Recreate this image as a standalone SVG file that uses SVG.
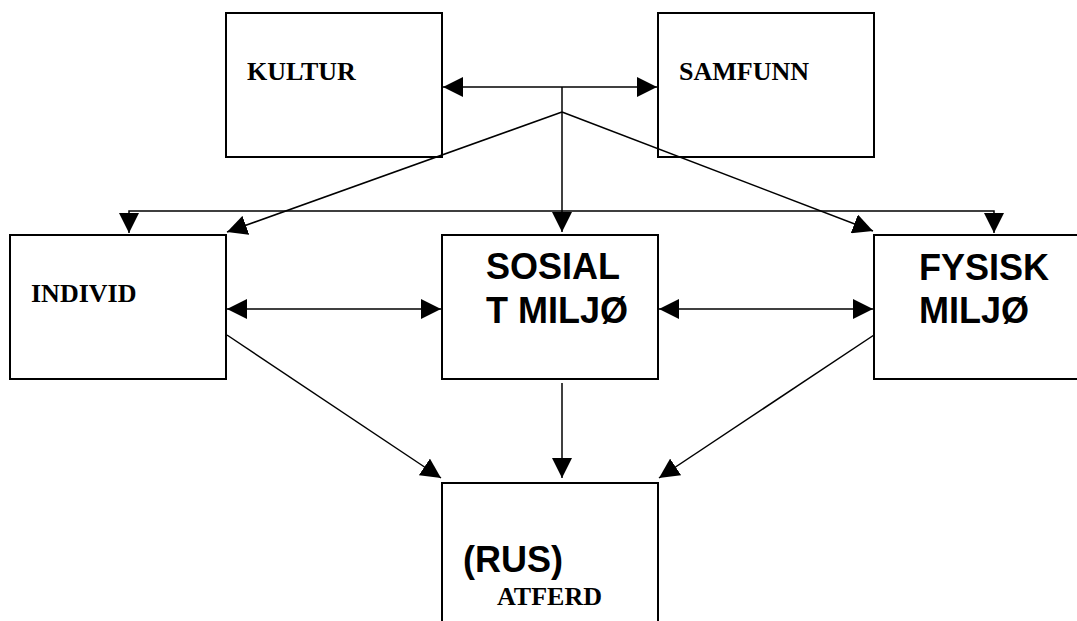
<svg xmlns="http://www.w3.org/2000/svg" width="1077" height="621" viewBox="0 0 1077 621">
<style>
.box{fill:#fff;stroke:#000;stroke-width:2}
.ln{fill:none;stroke:#000;stroke-width:1.5}
.serif{font-family:"Liberation Serif","Times New Roman",serif;font-weight:bold;font-size:26px;fill:#000}
.sans{font-family:"Liberation Sans",Arial,sans-serif;font-weight:bold;font-size:36px;fill:#000}
</style>
<defs>
<marker id="ah" markerUnits="userSpaceOnUse" markerWidth="20" markerHeight="20" refX="20" refY="10" orient="auto-start-reverse" viewBox="0 0 20 20">
<path d="M0,0 L20,10 L0,20 z" fill="#000"/>
</marker>
</defs>
<rect width="1077" height="621" fill="#fff"/>
<g id="kultur"><rect class="box" x="226" y="13" width="216" height="144"/><text class="serif" x="247" y="80">KULTUR</text></g>
<g id="samfunn"><rect class="box" x="658" y="13" width="216" height="144"/><text class="serif" x="679" y="80">SAMFUNN</text></g>
<g id="individ"><rect class="box" x="10" y="235" width="216" height="144"/><text class="serif" x="31" y="302">INDIVID</text></g>
<g id="sosialt-miljo"><rect class="box" x="442" y="235" width="216" height="144"/><text class="sans" x="486" y="279">SOSIAL</text><text class="sans" x="486" y="323">T MILJØ</text></g>
<g id="fysisk-miljo"><rect class="box" x="874" y="235" width="216" height="144"/><text class="sans" x="919" y="280">FYSISK</text><text class="sans" x="919" y="323">MILJØ</text></g>
<g id="rus-atferd"><rect class="box" x="442" y="483" width="216" height="144"/><text class="sans" x="463" y="572">(RUS)</text><text class="serif" x="497" y="605">ATFERD</text></g>
<g id="connectors">
<line class="ln" x1="443" y1="87" x2="657" y2="87" marker-start="url(#ah)" marker-end="url(#ah)"/>
<line class="ln" x1="562" y1="87" x2="562" y2="232" marker-end="url(#ah)"/>
<line class="ln" x1="562" y1="112" x2="227" y2="232" marker-end="url(#ah)"/>
<line class="ln" x1="562" y1="112" x2="873" y2="231" marker-end="url(#ah)"/>
<path class="ln" d="M129,233 L129,211 L994,211 L994,233" marker-start="url(#ah)" marker-end="url(#ah)"/>
<line class="ln" x1="227" y1="309" x2="441" y2="309" marker-start="url(#ah)" marker-end="url(#ah)"/>
<line class="ln" x1="659" y1="309" x2="873" y2="309" marker-start="url(#ah)" marker-end="url(#ah)"/>
<line class="ln" x1="227" y1="335" x2="441" y2="478" marker-end="url(#ah)"/>
<line class="ln" x1="562" y1="383" x2="562" y2="478" marker-end="url(#ah)"/>
<line class="ln" x1="874" y1="335" x2="659" y2="478" marker-end="url(#ah)"/>
</g>
</svg>
